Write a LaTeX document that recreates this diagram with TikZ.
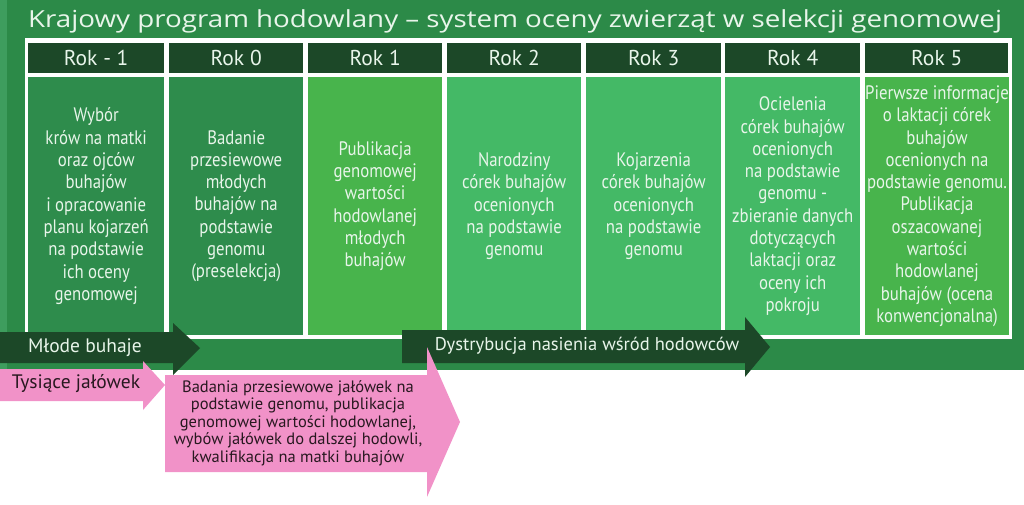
\documentclass[tikz,border=0pt]{standalone}
\usepackage{fontspec}
\setmainfont{PT Sans}
\newfontfamily\condfont{PT Sans}[FakeStretch=0.86]
\newfontfamily\titlefont{Open Sans}[FakeStretch=1.18]
\definecolor{bggreen}{RGB}{44,138,72}
\definecolor{edgegreen}{RGB}{62,157,94}
\definecolor{headgreen}{RGB}{28,72,40}
\definecolor{darkcell}{RGB}{46,140,76}
\definecolor{brightcell}{RGB}{72,180,76}
\definecolor{midcell}{RGB}{68,185,102}
\definecolor{pinkarrow}{RGB}{241,146,200}
\definecolor{celltext}{RGB}{232,245,234}
\definecolor{pinktext}{RGB}{40,24,32}
\tikzset{
  yearhead/.style={fill=headgreen, text=celltext, anchor=north west, inner sep=0pt,
    minimum height=30pt, font=\fontsize{21.5}{23}\selectfont},
  yearbody/.style={text=celltext, anchor=north west, inner sep=0pt, align=center,
    minimum height=258pt, font=\condfont\fontsize{19.5}{22.3}\selectfont},
  arrowlabel/.style={inner sep=0pt, font=\fontsize{19.5}{21}\selectfont},
}
\begin{document}
\begin{tikzpicture}[x=1pt, y=-1pt]
	\useasboundingbox (0,0) rectangle (1024,505);
	\fill[edgegreen] (0,0) rectangle (7,370);
	\fill[bggreen] (7,0) rectangle (1024,370);
	\node[anchor=base west, inner sep=0pt, text=celltext, font=\titlefont\fontsize{23.5}{26}\selectfont] (title) at (28,28)
		{Krajowy program hodowlany – system oceny zwierząt w selekcji genomowej};
	\fill[white] (25,38) rectangle (1012,339);
	% naglowki lat
	\node[yearhead, minimum width=136pt] (rokm1) at (28,43) {Rok - 1};
	\node[yearhead, minimum width=134pt] (rok0) at (169,43) {Rok 0};
	\node[yearhead, minimum width=134pt] (rok1) at (308,43) {Rok 1};
	\node[yearhead, minimum width=134pt] (rok2) at (447,43) {Rok 2};
	\node[yearhead, minimum width=135pt] (rok3) at (586,43) {Rok 3};
	\node[yearhead, minimum width=135pt] (rok4) at (725,43) {Rok 4};
	\node[yearhead, minimum width=143pt] (rok5) at (865,43) {Rok 5};
	% opisy
	\node[yearbody, fill=darkcell, minimum width=136pt] (opism1) at (28,77)
		{Wybór\\krów na matki\\oraz ojców\\buhajów\\i opracowanie\\planu kojarzeń\\na podstawie\\ich oceny\\genomowej};
	\node[yearbody, fill=darkcell, minimum width=134pt] (opis0) at (169,77)
		{Badanie\\przesiewowe\\młodych\\buhajów na\\podstawie\\genomu\\(preselekcja)};
	\node[yearbody, fill=brightcell, minimum width=134pt] (opis1) at (308,77)
		{Publikacja\\genomowej\\wartości\\hodowlanej\\młodych\\buhajów};
	\node[yearbody, fill=midcell, minimum width=134pt] (opis2) at (447,77)
		{Narodziny\\córek buhajów\\ocenionych\\na podstawie\\genomu};
	\node[yearbody, fill=midcell, minimum width=135pt] (opis3) at (586,77)
		{Kojarzenia\\córek buhajów\\ocenionych\\na podstawie\\genomu};
	\node[yearbody, fill=midcell, minimum width=135pt] (opis4) at (725,77)
		{Ocielenia\\córek buhajów\\ocenionych\\na podstawie\\genomu -\\zbieranie danych\\dotyczących\\laktacji oraz\\oceny ich\\pokroju};
	\node[yearbody, fill=brightcell, minimum width=143pt] (opis5) at (865,77)
		{Pierwsze informacje\\o laktacji córek\\buhajów\\ocenionych na\\podstawie genomu.\\Publikacja\\oszacowanej\\wartości\\hodowlanej\\buhajów (ocena\\konwencjonalna)};
	% strzalki
	\fill[headgreen] (0,332) -- (173,332) -- (173,323) -- (200,348) -- (173,375) -- (173,363) -- (0,363) -- cycle;
	\node[arrowlabel, text=celltext] (buhaje) at (85,348) {Młode buhaje};
	\fill[headgreen] (402,330) -- (745,330) -- (745,317) -- (770,347) -- (745,377) -- (745,363) -- (402,363) -- cycle;
	\node[arrowlabel, text=celltext, font=\fontsize{18.5}{20}\selectfont] (nasienie) at (587,346) {Dystrybucja nasienia wśród hodowców};
	\fill[pinkarrow] (0,369) -- (143,369) -- (143,361) -- (165,385) -- (143,410) -- (143,401) -- (0,401) -- cycle;
	\node[arrowlabel, text=pinktext] (jalowki) at (76,384) {Tysiące jałówek};
	\fill[pinkarrow] (165,375) -- (427,375) -- (427,347) -- (460,422) -- (427,497) -- (427,472) -- (165,472) -- cycle;
	\node[inner sep=0pt, align=center, text=pinktext, font=\fontsize{16.5}{17.5}\selectfont] (badania) at (298,423)
		{Badania przesiewowe jałówek na\\podstawie genomu, publikacja\\genomowej wartości hodowlanej,\\wybów jałówek do dalszej hodowli,\\kwalifikacja na matki buhajów};
\end{tikzpicture}
\end{document}
